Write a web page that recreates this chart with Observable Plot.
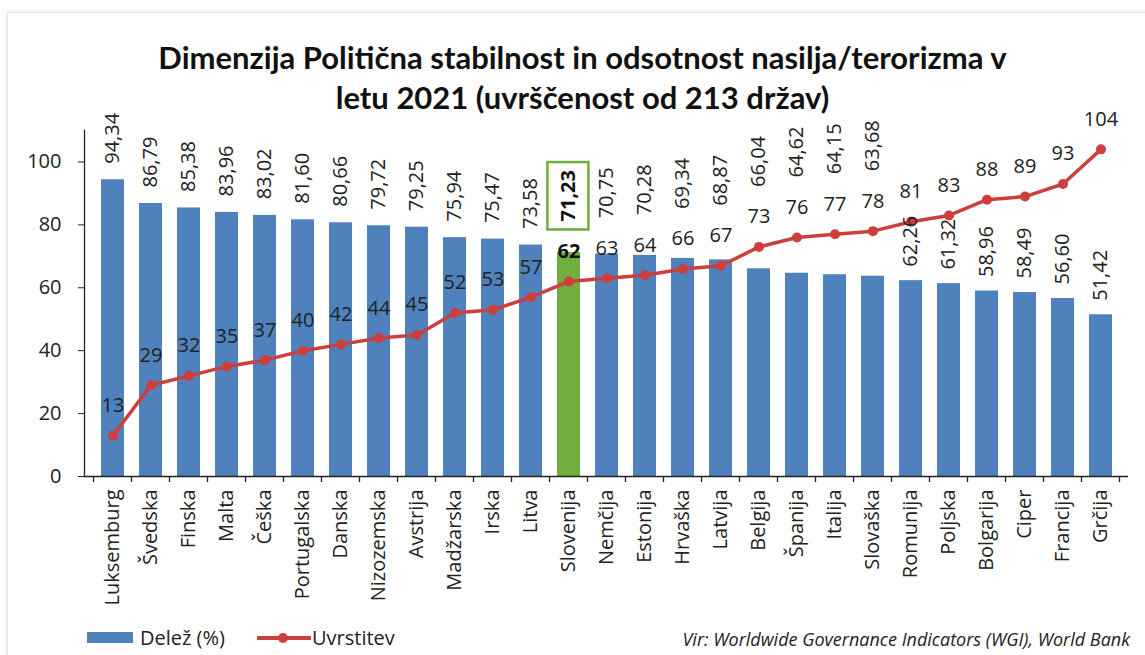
<!DOCTYPE html>
<html><head><meta charset="utf-8">
<script src="https://cdn.jsdelivr.net/npm/d3@7"></script>
<script src="https://cdn.jsdelivr.net/npm/@observablehq/plot@0.6"></script>
<style>
body{margin:0;background:#fff;font-family:"Open Sans",sans-serif;color:#222;}
#wrap{position:relative;width:1145px;height:655px;overflow:hidden;background:#fff;}
#card{position:absolute;left:7px;top:12px;width:1150px;height:660px;border-top:1px solid #e4e4e4;border-left:1px solid #e4e4e4;box-shadow:0 0 5px rgba(0,0,0,0.10);}
#title{position:absolute;left:10px;top:37px;width:1145px;text-align:center;font-family:Lato,"Open Sans",sans-serif;font-weight:700;font-size:31px;line-height:40px;color:#111;}
#chart{position:absolute;left:0;top:115px;}
.leg{position:absolute;font-size:20px;line-height:24px;top:626px;color:#222;}
#src{position:absolute;right:15px;top:627px;font-size:18px;font-style:italic;line-height:24px;color:#222;}
</style></head>
<body><div id="wrap"><div id="card"></div>
<div id="title">Dimenzija Politična stabilnost in odsotnost nasilja/terorizma v<br>letu 2021 (uvrščenost od 213 držav)</div>
<div id="chart"></div>
<div style="position:absolute;left:87px;top:632px;width:46px;height:11px;background:#4f81bd;"></div>
<div class="leg" style="left:140px;">Delež (%)</div>
<svg style="position:absolute;left:255px;top:628px;" width="58" height="20"><line x1="2" x2="56" y1="10" y2="10" stroke="#cc3f3c" stroke-width="4"/><circle cx="28" cy="10" r="5" fill="#cc3f3c"/></svg>
<div class="leg" style="left:312px;">Uvrstitev</div>
<div id="src">Vir: Worldwide Governance Indicators (WGI), World Bank</div>
</div>
<script>
const countries = ["Luksemburg","Švedska","Finska","Malta","Češka","Portugalska","Danska","Nizozemska","Avstrija","Madžarska","Irska","Litva","Slovenija","Nemčija","Estonija","Hrvaška","Latvija","Belgija","Španija","Italija","Slovaška","Romunija","Poljska","Bolgarija","Ciper","Francija","Grčija"];
const share = [94.34,86.79,85.38,83.96,83.02,81.60,80.66,79.72,79.25,75.94,75.47,73.58,71.23,70.75,70.28,69.34,68.87,66.04,64.62,64.15,63.68,62.26,61.32,58.96,58.49,56.60,51.42];
const rank = [13,29,32,35,37,40,42,44,45,52,53,57,62,63,64,66,67,73,76,77,78,81,83,88,89,93,104];
const yTicks = [0,20,40,60,80,100];
const highlight = "Slovenija";

const BLUE = "#4f81bd", GREEN = "#6fae3f", RED = "#cc3f3c";
const W = 1145, H = 501, mt = 15, mb = 140, ml = 84, mr = 17;
const yMax = 110;
const k = (H - mt - mb) / yMax;
const fmt = v => v.toFixed(2).replace(".", ",");

const data = countries.map((c, i) => ({country: c, share: share[i], rank: rank[i]}));
data.forEach(d => {
  d.labelY = (d.rank - d.share > 16) ? d.share + 14 / k : Math.max(d.share + 16 / k, d.rank + 60 / k);
});
const isHi = d => d.country === highlight;
const notHi = d => d.country !== highlight;

const plot = Plot.plot({
  width: W, height: H,
  marginTop: mt, marginBottom: mb, marginLeft: ml, marginRight: mr,
  style: {fontFamily: "'Open Sans', sans-serif", color: "#222", background: "transparent", overflow: "visible"},
  x: {domain: countries, paddingInner: 0.4, paddingOuter: 0.2, label: null},
  y: {domain: [0, yMax], label: null},
  marks: [
    Plot.barY(data.filter(notHi), {x: "country", y: "share", fill: BLUE}),
    Plot.barY(data.filter(isHi), {x: "country", y: "share", fill: GREEN}),
    Plot.ruleY([0], {stroke: "#222", strokeWidth: 1.3}),
    Plot.frame({anchor: "left", stroke: "#222", strokeWidth: 1.3}),
    Plot.axisY({ticks: yTicks, tickSize: 6, tickPadding: 17, fontSize: 20, stroke: "#222", label: null}),
    Plot.axisX({tickSize: 0, tickPadding: 13, tickRotate: -90, fontSize: 20, label: null}),
    Plot.line(data, {x: "country", y: "rank", stroke: RED, strokeWidth: 3.5}),
    Plot.dot(data, {x: "country", y: "rank", r: 5, fill: RED}),
    Plot.text(data.filter(notHi), {x: "country", y: "rank", text: d => String(d.rank), dy: -30, fontSize: 20, fill: "#222"}),
    Plot.text(data.filter(isHi), {x: "country", y: "rank", text: d => String(d.rank), dy: -30, fontSize: 20, fontWeight: "bold", fill: "#111"}),
    Plot.text(data.filter(notHi), {x: "country", y: "labelY", text: d => fmt(d.share), rotate: -90, textAnchor: "start", fontSize: 20, fill: "#222"}),
    Plot.text(data.filter(isHi), {x: "country", y: "labelY", text: d => fmt(d.share), rotate: -90, textAnchor: "start", fontSize: 20, fontWeight: "bold", fill: "#111"})
  ]
});
document.getElementById("chart").appendChild(plot);

// category boundary ticks on the x axis
const xs = plot.scale("x");
const step = xs.step, bw = xs.bandwidth;
const svg = d3.select(plot);
const y0 = plot.scale("y").apply(0);
const bounds = countries.map(c => xs.apply(c) - (step - bw) / 2);
bounds.push(xs.apply(countries[countries.length - 1]) + bw + (step - bw) / 2);
svg.append("g").selectAll("line").data(bounds).join("line")
  .attr("x1", d => d).attr("x2", d => d).attr("y1", y0).attr("y2", y0 + 6)
  .attr("stroke", "#222").attr("stroke-width", 1.3);

// box round the highlighted label
const hiText = fmt(share[countries.indexOf(highlight)]);
const t = Array.from(plot.querySelectorAll("text")).find(e => e.textContent === hiText);
if (t) {
  const r = t.getBoundingClientRect(), s = plot.getBoundingClientRect();
  const px = 7, py = 8;
  svg.append("rect")
    .attr("x", r.left - s.left - px).attr("y", r.top - s.top - py)
    .attr("width", r.width + 2 * px).attr("height", r.height + 2 * py)
    .attr("fill", "none").attr("stroke", GREEN).attr("stroke-width", 2.5);
}
</script>
</body></html>
